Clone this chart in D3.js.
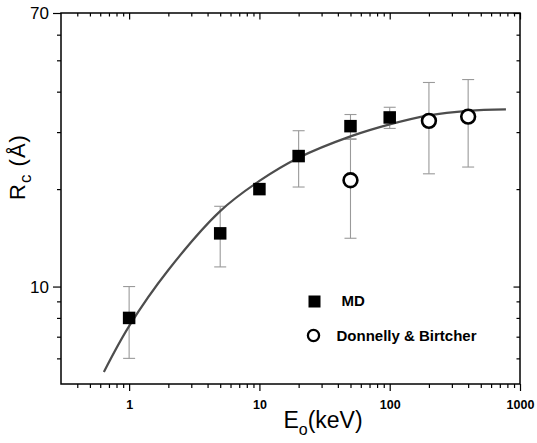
<!DOCTYPE html>
<html>
<head>
<meta charset="utf-8">
<script src="https://cdn.jsdelivr.net/npm/d3@7/dist/d3.min.js"></script>
<style>
  html, body { margin: 0; padding: 0; background: #fff; }
  svg { display: block; font-family: "Liberation Sans", Arial, Helvetica, sans-serif; }
</style>
</head>
<body>
<svg id="chart" width="537" height="443"></svg>
<script>
// MD simulation results: incident energy (keV), cascade radius (Å), error
const mdEnergy = [1, 5, 10, 20, 50, 100];
const mdRadius = [8.0, 14.6, 20.0, 25.3, 31.3, 33.3];
const mdError  = [2.0, 3.1, null, 5.0, 2.7, 2.5];

// Donnelly & Birtcher measurements
const dbEnergy = [50, 200, 400];
const dbRadius = [21.3, 32.5, 33.5];
const dbError  = [7.2, 10.2, 10.1];

// Fitted trend line sampled along energy
const fitEnergy = [0.64, 1, 2, 5, 10, 20, 50, 100, 200, 400, 780];
const fitRadius = [5.45, 7.55, 11.25, 17.1, 21.2, 25.0, 29.1, 31.7, 33.8, 34.9, 35.25];

// Axis ticks
const xMajorTicks = [1, 10, 100, 1000];
const xTickLabels = ["1", "10", "100", "1000"];
const xMinorTicks = [0.4, 0.5, 0.6, 0.7, 0.8, 0.9, 2, 3, 4, 5, 6, 7, 8, 9,
                     20, 30, 40, 50, 60, 70, 80, 90, 200, 300, 400, 500, 600, 700, 800, 900];
const yMajorTicks = [10, 70];
const yTickLabels = ["10", "70"];
const yMinorTicks = [6, 7, 8, 9, 20, 30, 40, 50, 60];

const legendLabels = ["MD", "Donnelly & Birtcher"];

const svg = d3.select("#chart");
const plotL = 61, plotR = 520, plotT = 13, plotB = 384;

const x = d3.scaleLog().domain([0.3, 1000]).range([plotL, plotR]);
const y = d3.scaleLog().domain([5, 70]).range([plotB, plotT]);

// Axes: outward ticks bottom/left, inward ticks top/right
function styleAxis(g) {
  g.select(".domain").remove();
  g.selectAll(".tick line").attr("stroke", "#000").attr("stroke-width", 1.2);
}

svg.append("g").attr("transform", `translate(0,${plotB})`)
  .call(d3.axisBottom(x).tickValues(xMinorTicks).tickSize(4).tickFormat(""))
  .call(styleAxis);
svg.append("g").attr("transform", `translate(0,${plotB})`)
  .call(d3.axisBottom(x).tickValues(xMajorTicks).tickSize(7).tickPadding(9)
    .tickFormat((d, i) => xTickLabels[i]))
  .call(styleAxis)
  .call(g => g.selectAll("text").attr("fill", "#000")
    .attr("font-size", "12.5px").attr("font-weight", "bold")
    .attr("font-family", "Liberation Sans, Arial, sans-serif"));

svg.append("g").attr("transform", `translate(0,${plotT})`)
  .call(d3.axisTop(x).tickValues(xMinorTicks).tickSize(-3.5).tickFormat(""))
  .call(styleAxis);
svg.append("g").attr("transform", `translate(0,${plotT})`)
  .call(d3.axisTop(x).tickValues(xMajorTicks).tickSize(-6.5).tickFormat(""))
  .call(styleAxis);

svg.append("g").attr("transform", `translate(${plotL},0)`)
  .call(d3.axisLeft(y).tickValues(yMinorTicks).tickSize(4).tickFormat(""))
  .call(styleAxis);
svg.append("g").attr("transform", `translate(${plotL},0)`)
  .call(d3.axisLeft(y).tickValues(yMajorTicks).tickSize(8).tickPadding(4)
    .tickFormat((d, i) => yTickLabels[i]))
  .call(styleAxis)
  .call(g => g.selectAll("text").attr("fill", "#000")
    .attr("font-size", "17px")
    .attr("font-family", "Liberation Sans, Arial, sans-serif"));

svg.append("g").attr("transform", `translate(${plotR},0)`)
  .call(d3.axisRight(y).tickValues(yMinorTicks).tickSize(-3.5).tickFormat(""))
  .call(styleAxis);
svg.append("g").attr("transform", `translate(${plotR},0)`)
  .call(d3.axisRight(y).tickValues(yMajorTicks).tickSize(-6.5).tickFormat(""))
  .call(styleAxis);

// Plot frame
svg.append("rect")
  .attr("x", plotL).attr("y", plotT)
  .attr("width", plotR - plotL).attr("height", plotB - plotT)
  .attr("fill", "none").attr("stroke", "#000").attr("stroke-width", 1.5);

// Error bars
const capHalf = 6;
function errorBars(energy, radius, err) {
  const rows = energy.map((e, i) => ({ e, r: radius[i], s: err[i] })).filter(d => d.s != null);
  const g = svg.append("g").attr("stroke", "#9a9a9a").attr("stroke-width", 1.1).attr("fill", "none");
  g.selectAll("line.v").data(rows).join("line").attr("class", "v")
    .attr("x1", d => x(d.e)).attr("x2", d => x(d.e))
    .attr("y1", d => y(d.r + d.s)).attr("y2", d => y(d.r - d.s));
  g.selectAll("line.t").data(rows).join("line").attr("class", "t")
    .attr("x1", d => x(d.e) - capHalf).attr("x2", d => x(d.e) + capHalf)
    .attr("y1", d => y(d.r + d.s)).attr("y2", d => y(d.r + d.s));
  g.selectAll("line.b").data(rows).join("line").attr("class", "b")
    .attr("x1", d => x(d.e) - capHalf).attr("x2", d => x(d.e) + capHalf)
    .attr("y1", d => y(d.r - d.s)).attr("y2", d => y(d.r - d.s));
}
errorBars(mdEnergy, mdRadius, mdError);
errorBars(dbEnergy, dbRadius, dbError);

// Fitted curve
const fitLine = d3.line()
  .x(d => x(d[0])).y(d => y(d[1]))
  .curve(d3.curveCatmullRom.alpha(0.5));
svg.append("path")
  .datum(fitEnergy.map((e, i) => [e, fitRadius[i]]))
  .attr("d", fitLine)
  .attr("fill", "none").attr("stroke", "#4d4d4d").attr("stroke-width", 2.2);

// MD squares
const sq = 12.5;
svg.append("g").selectAll("rect")
  .data(mdEnergy.map((e, i) => [e, mdRadius[i]]))
  .join("rect")
  .attr("x", d => x(d[0]) - sq / 2).attr("y", d => y(d[1]) - sq / 2)
  .attr("width", sq).attr("height", sq).attr("fill", "#000");

// Donnelly & Birtcher open circles
svg.append("g").selectAll("circle")
  .data(dbEnergy.map((e, i) => [e, dbRadius[i]]))
  .join("circle")
  .attr("cx", d => x(d[0])).attr("cy", d => y(d[1])).attr("r", 6.9)
  .attr("fill", "#fff").attr("stroke", "#000").attr("stroke-width", 2.6);

// Legend
const legend = svg.append("g").attr("font-size", "15px").attr("font-weight", "bold");
legend.append("rect").attr("x", 308.5).attr("y", 295.5).attr("width", 12).attr("height", 12).attr("fill", "#000");
legend.append("text").attr("x", 341.5).attr("y", 305.5).text(legendLabels[0]);
legend.append("circle").attr("cx", 313.5).attr("cy", 335.5).attr("r", 5.6)
  .attr("fill", "#fff").attr("stroke", "#000").attr("stroke-width", 2.3);
legend.append("text").attr("x", 336.5).attr("y", 340.5).text(legendLabels[1]);

// Axis titles
const xTitle = svg.append("text")
  .attr("x", 323).attr("y", 428).attr("text-anchor", "middle")
  .attr("font-size", "23px").attr("fill", "#000");
xTitle.append("tspan").text("E");
xTitle.append("tspan").attr("font-size", "16px").attr("dy", 7).text("o");
xTitle.append("tspan").attr("dy", -7).text("(keV)");

const yTitle = svg.append("text")
  .attr("transform", "translate(25,167) rotate(-90)")
  .attr("text-anchor", "middle")
  .attr("font-size", "22px").attr("letter-spacing", "1px").attr("fill", "#000");
yTitle.append("tspan").text("R");
yTitle.append("tspan").attr("font-size", "17px").attr("dy", 6).text("c");
yTitle.append("tspan").attr("dy", -6).text(" (Å)");
</script>
</body>
</html>
